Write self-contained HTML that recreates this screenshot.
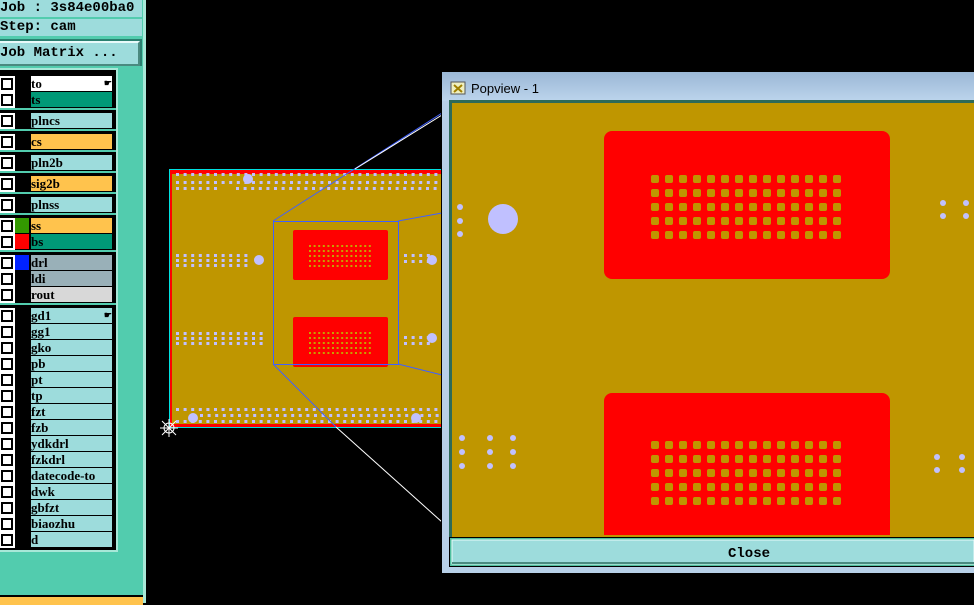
<!DOCTYPE html>
<html><head><meta charset="utf-8"><style>
body{margin:0;width:974px;height:603px;background:#000;overflow:hidden;position:relative;font-family:"Liberation Mono",monospace;}
.a{position:absolute;}
.t{font-weight:bold;font-size:13px;line-height:16px;color:#000;white-space:nowrap;}
</style></head><body>
<div class="a" style="left:0;top:0;width:145px;height:603px;background:#52ccae;"></div>
<div class="a" style="left:143px;top:0;width:3px;height:603px;background:#a8e8d8;"></div>
<div class="a t" style="left:0;top:0;width:142px;height:17px;background:#9ddcdc;font-size:14px;line-height:17px;">Job : 3s84e00ba0</div>
<div class="a t" style="left:0;top:19px;width:142px;height:17px;background:#9ddcdc;font-size:14px;line-height:17px;">Step: cam</div>
<div class="a" style="left:0;top:39px;width:142px;height:27px;background:#2a8070;"></div>
<div class="a t" style="left:0;top:41px;width:138px;height:21px;background:#9ddcdc;border-top:2px solid #e8fafa;border-right:2px solid #4a8a80;border-bottom:2px solid #4a8a80;font-size:14px;line-height:21px;">Job Matrix ...</div>
<div class="a" style="left:0;top:68px;width:118px;height:484px;background:#a8e8d8;"></div>
<div class="a" style="left:0;top:70px;width:116px;height:480px;background:#000;"></div>
<div class="a" style="left:0;top:595px;width:143px;height:8px;background:#ffc34d;border-top:2px solid #000"></div>
<div id="rows"></div>
<svg class="a" style="left:0;top:0" width="974" height="603">
<rect x="169.5" y="169.5" width="274" height="258" fill="none" stroke="#00e0e0"/>
<rect x="170" y="170" width="273" height="257" fill="#ff0000"/>
<rect x="172" y="174" width="271" height="250" fill="#bf9600"/>
<g id="sv"></g>
<g fill="#c0c0ff"><circle cx="248" cy="179" r="5"/><circle cx="259" cy="260" r="5"/><circle cx="432" cy="260" r="5"/><circle cx="432" cy="338" r="5"/><circle cx="193" cy="418" r="5"/><circle cx="416" cy="418" r="5"/></g>
<rect x="293" y="230" width="95" height="50" rx="2" fill="#ff0000"/>
<rect x="293" y="317" width="95" height="50" rx="2" fill="#ff0000"/>
<g id="pv"></g>
<rect x="273.5" y="221.5" width="125" height="143" fill="none" stroke="#4060ff"/>
<line x1="273" y1="221" x2="442" y2="113" stroke="#4060ff"/>
<line x1="398" y1="221" x2="442" y2="213" stroke="#4060ff"/>
<line x1="398" y1="364" x2="442" y2="375" stroke="#4060ff"/>
<line x1="273" y1="364" x2="336" y2="427" stroke="#4060ff"/>
<line x1="336" y1="427" x2="442" y2="522" stroke="#fff"/>
<line x1="355" y1="169" x2="442" y2="115" stroke="#fff"/>
<g stroke="#fff" stroke-width="1"><line x1="160" y1="428" x2="178" y2="428"/><line x1="169" y1="419" x2="169" y2="437"/><line x1="162" y1="421" x2="176" y2="435"/><line x1="176" y1="421" x2="162" y2="435"/><circle cx="169" cy="428" r="5" fill="none"/></g>
<rect x="441" y="70" width="533" height="504" fill="#000"/>
<defs><linearGradient id="tg" x1="0" y1="0" x2="0" y2="1"><stop offset="0" stop-color="#9bb8d6"/><stop offset="1" stop-color="#bcd4ec"/></linearGradient></defs>
<rect x="442" y="72" width="532" height="501" fill="#b8d0e8"/>
<rect x="442" y="72" width="532" height="29" fill="url(#tg)"/>
<rect x="449" y="100" width="525" height="437" fill="#2e6a58"/>
<rect x="452" y="103" width="522" height="432" fill="#bf9600"/>
<rect x="451" y="82" width="14" height="12" fill="#f0f0c0" stroke="#555"/>
<path d="M454 85 L462 92 M462 85 L454 92" stroke="#a08000" stroke-width="2"/>
<text x="471" y="93" font-family="Liberation Sans, sans-serif" font-size="13" fill="#000">Popview - 1</text>
<rect x="604" y="131" width="286" height="148" rx="8" fill="#ff0000"/>
<rect x="604" y="393" width="286" height="150" rx="8" fill="#ff0000"/>
<g id="bv"></g>
<rect x="452" y="535" width="522" height="3" fill="#bf9600"/>
<g fill="#c0c0ff"><circle cx="503" cy="219" r="15"/>
<circle cx="460" cy="207" r="3"/><circle cx="460" cy="221" r="3"/><circle cx="460" cy="234" r="3"/>
<circle cx="943" cy="203" r="3"/><circle cx="966" cy="203" r="3"/><circle cx="943" cy="216" r="3"/><circle cx="966" cy="216" r="3"/>
<circle cx="462" cy="438" r="3"/><circle cx="462" cy="452" r="3"/><circle cx="462" cy="466" r="3"/>
<circle cx="490" cy="438" r="3"/><circle cx="490" cy="452" r="3"/><circle cx="490" cy="466" r="3"/>
<circle cx="513" cy="438" r="3"/><circle cx="513" cy="452" r="3"/><circle cx="513" cy="466" r="3"/>
<circle cx="937" cy="457" r="3"/><circle cx="962" cy="457" r="3"/><circle cx="937" cy="470" r="3"/><circle cx="962" cy="470" r="3"/></g>
<rect x="449" y="537" width="525" height="30" fill="#000"/>
<rect x="450" y="538" width="524" height="28" fill="#50c0a0"/>
<rect x="452" y="540" width="522" height="24" fill="#9ddcdc" stroke="#e8fafa" stroke-width="1"/>
<rect x="452" y="562" width="522" height="2" fill="#4a8a80"/>
<text x="749" y="557" text-anchor="middle" font-family="Liberation Mono, monospace" font-weight="bold" font-size="14" fill="#000">Close</text>
</svg>
<script>
function grid(id,x0,y0,nx,ny,dx,dy,w,h,f,rx){var s="";for(var j=0;j<ny;j++)for(var i=0;i<nx;i++)s+='<rect x="'+(x0+i*dx)+'" y="'+(y0+j*dy)+'" width="'+w+'" height="'+h+'" rx="'+(rx||0)+'" fill="'+f+'"/>';document.getElementById(id).innerHTML+=s;}
var V="#c0c0ff";
grid("sv",176,173,35,1,7.6,0,3,3,V);grid("sv",176,181,35,1,7.6,0,3,3,V);grid("sv",176,187,6,1,7.6,0,3,3,V);grid("sv",236,187,27,1,7.6,0,3,3,V);
grid("sv",176,254,10,3,7.6,5,3,3,V);grid("sv",176,332,12,3,7.6,5,3,3,V);
grid("sv",404,254,4,2,7.6,6,3,3,V);grid("sv",404,336,4,2,7.6,6,3,3,V);
grid("sv",176,408,35,1,7.6,0,3,3,V);grid("sv",200,414,32,1,7.6,0,3,3,V);grid("sv",176,420,35,1,7.6,0,3,3,V);
grid("pv",309,245,14,5,4.6,5,2,2,"#c8a000");grid("pv",309,332,14,5,4.6,5,2,2,"#c8a000");
grid("bv",651,175,14,5,14,14,8,8,"#bf9600",2);grid("bv",651,441,14,5,14,14,8,8,"#bf9600",2);
var R=[["to",83,"#fff","",1],["ts",99,"#009977",""],["plncs",120,"#9ddcdc",""],["cs",141,"#ffc34d",""],["pln2b",162,"#9ddcdc",""],["sig2b",183,"#ffc34d",""],["plnss",204,"#9ddcdc",""],["ss",225,"#ffc34d","#339900"],["bs",241,"#009977","#ff0000"],["drl",262,"#99b0b8","#0022ff"],["ldi",278,"#99b0b8",""],["rout",294,"#d8d8d8",""],["gd1",315,"#9ddcdc","",1],["gg1",331],["gko",347],["pb",363],["pt",379],["tp",395],["fzt",411],["fzb",427],["ydkdrl",443],["fzkdrl",459],["datecode-to",475],["dwk",491],["gbfzt",507],["biaozhu",523],["d",539]];
var h="",seps=[109,130,151,172,193,214,251,304];
seps.forEach(function(y){h+='<div class="a" style="left:0;top:'+(y-1)+'px;width:116px;height:2px;background:#52ccae"></div>';});
R.forEach(function(r){var y=r[1]-7,c=r[2]||"#9ddcdc";
h+='<div class="a" style="left:1px;top:'+(y+2)+'px;width:8px;height:8px;border:2px solid #000;outline:2px solid #fff;background:#fff"></div>';
if(r[3])h+='<div class="a" style="left:15px;top:'+y+'px;width:14px;height:15px;background:'+r[3]+'"></div>';
h+='<div class="a t" style="left:31px;top:'+y+'px;width:81px;height:15px;line-height:15px;background:'+c+';font-family:Liberation Serif,serif;font-size:13px">'+r[0]+(r[4]?'<span style="float:right;font-size:9px">&#9755;</span>':'')+'</div>';});
document.getElementById("rows").innerHTML=h;
</script>
</body></html>
